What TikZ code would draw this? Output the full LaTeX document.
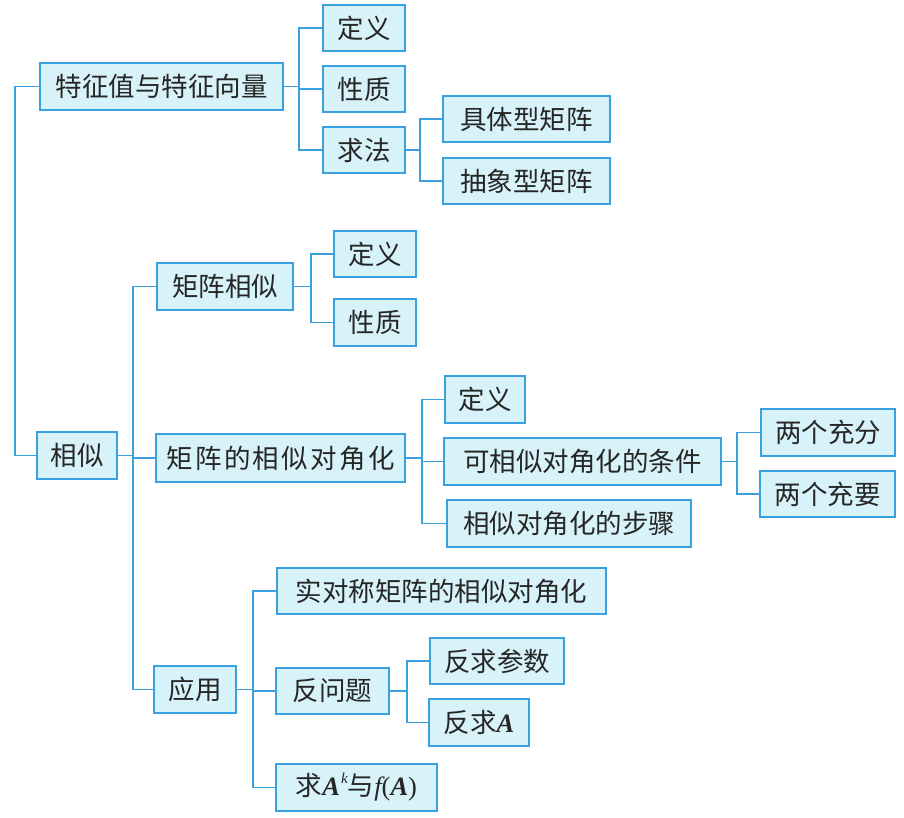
\documentclass[tikz,border=0pt]{standalone}
\usepackage{fontspec}
\newfontfamily\cjk{Noto Sans CJK SC}
\newfontfamily\lsr{Liberation Serif}
\definecolor{boxfill}{HTML}{D8F2FA}
\definecolor{boxline}{HTML}{3AA0E0}
\newcommand{\mA}{{\lsr\bfseries\itshape A}}
\newcommand{\cjkgap}{\kern2.3pt}
\begin{document}
\begin{tikzpicture}[x=1pt,y=-1pt,
  bx/.style={draw=boxline,fill=boxfill,line width=1.3pt,inner sep=0pt,
    font=\cjk\fontsize{26.5}{26.5}\selectfont,text=black!85},
  link/.style={draw=boxline,line width=1.3pt}]
\useasboundingbox[fill=white] (0,0) rectangle (904,818);
% helper: box from (x1,y1) to (x2,y2)
\def\bxat#1#2#3#4#5#6{\node[bx,minimum width=#4-#2,minimum height=#5-#3] (#1) at ({(#2+#4)/2},{(#3+#5)/2}) {#6};}
\bxat{tz}{40}{63}{283}{110}{特征值与特征向量}
\bxat{dy1}{323}{5}{405}{51}{定义}
\bxat{xz1}{323}{66}{405}{112}{性质}
\bxat{qf}{323}{127}{405}{173}{求法}
\bxat{jt}{443}{96}{610}{142}{具体型矩阵}
\bxat{cx}{443}{158}{610}{204}{抽象型矩阵}
\bxat{xs}{37}{432}{117}{479}{相似}
\bxat{jzxs}{157}{263}{293}{310}{矩阵相似}
\bxat{dy2}{334}{231}{416}{277}{定义}
\bxat{xz2}{334}{299}{416}{346}{性质}
\bxat{djh}{156}{434}{405}{482}{矩\cjkgap 阵\cjkgap 的\cjkgap 相\cjkgap 似\cjkgap 对\cjkgap 角\cjkgap 化}
\bxat{dy3}{445}{376}{525}{423}{定义}
\bxat{tj}{444}{438}{721}{485}{可相似对角化的条件}
\bxat{bz}{447}{500}{691}{547}{相似对角化的步骤}
\bxat{cf}{761}{409}{895}{456}{两个充分}
\bxat{cy}{760}{471}{895}{517}{两个充要}
\bxat{yy}{154}{666}{236}{713}{应用}
\bxat{sdc}{277}{568}{606}{614}{实对称矩阵的相似对角化}
\bxat{fwt}{276}{668}{389}{714}{反问题}
\bxat{fcs}{430}{638}{564}{684}{反求参数}
\bxat{fa}{429}{699}{529}{746}{反求\mA}
\bxat{qa}{276}{764}{437}{811}{求\mA\kern1pt\raisebox{0.45em}{\fontsize{15}{15}\selectfont\lsr\itshape k}与{\lsr\itshape f}{\lsr(}\mA{\lsr)}}
% trunk coordinates
\coordinate (t0) at (15,0);
\coordinate (t1) at (299,0);
\coordinate (t2) at (420,0);
\coordinate (t3) at (133,0);
\coordinate (t4) at (311,0);
\coordinate (t5) at (422,0);
\coordinate (t6) at (737,0);
\coordinate (t7) at (253,0);
\coordinate (t8) at (407,0);
% connectors
\foreach \c in {dy1,xz1,qf} \draw[link] (tz.east) -- (tz.east -| t1) |- (\c.west);
\foreach \c in {jt,cx} \draw[link] (qf.east) -- (qf.east -| t2) |- (\c.west);
\draw[link] (xs.west) -- (xs.west -| t0) |- (tz.west);
\foreach \c in {jzxs,djh,yy} \draw[link] (xs.east) -- (xs.east -| t3) |- (\c.west);
\foreach \c in {dy2,xz2} \draw[link] (jzxs.east) -- (jzxs.east -| t4) |- (\c.west);
\foreach \c in {dy3,tj,bz} \draw[link] (djh.east) -- (djh.east -| t5) |- (\c.west);
\foreach \c in {cf,cy} \draw[link] (tj.east) -- (tj.east -| t6) |- (\c.west);
\foreach \c in {sdc,fwt,qa} \draw[link] (yy.east) -- (yy.east -| t7) |- (\c.west);
\foreach \c in {fcs,fa} \draw[link] (fwt.east) -- (fwt.east -| t8) |- (\c.west);
\end{tikzpicture}
\end{document}
